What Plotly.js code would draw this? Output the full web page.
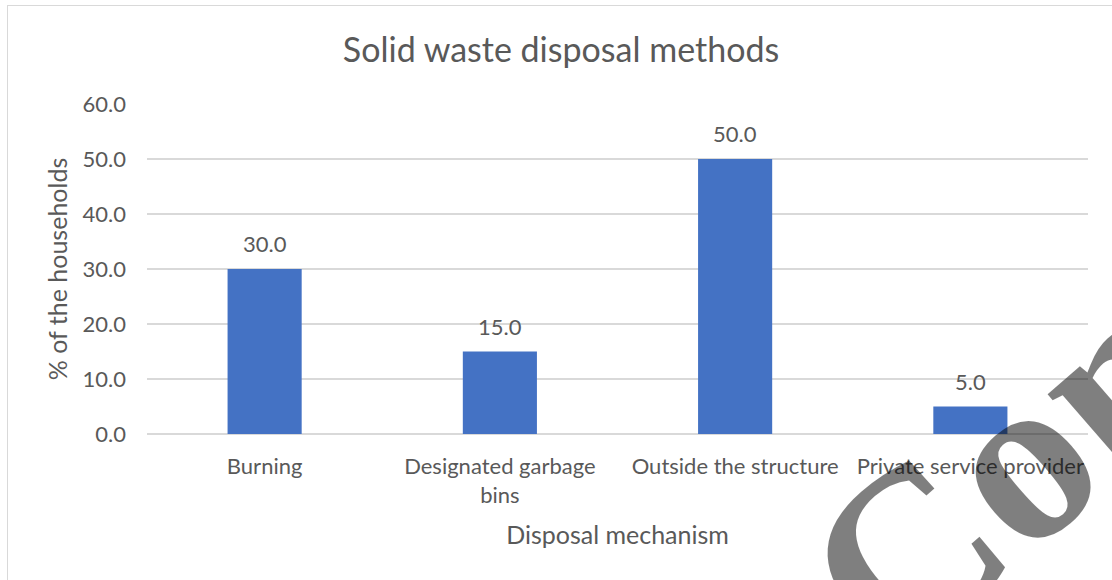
<!DOCTYPE html>
<html><head><meta charset="utf-8">
<script src="https://cdn.plot.ly/plotly-3.0.1.min.js"></script>
<style>
html,body{margin:0;padding:0;background:#fff;}
#wrap{position:relative;width:1112px;height:580px;overflow:hidden;}
#chart{width:1112px;height:580px;}
#frame{position:absolute;left:7px;top:5px;width:1130px;height:600px;border:1.5px solid #d9d9d9;pointer-events:none;box-sizing:border-box;}
</style>
</head><body>
<div id="wrap"><div id="chart"></div><div id="frame"></div></div>
<script>
const categories = ["Burning", "Designated garbage<br>bins", "Outside the structure", "Private service provider"];
const values = [30.0, 15.0, 50.0, 5.0];
const valueLabels = ["30.0", "15.0", "50.0", "5.0"];
const yTickValues = [0, 10, 20, 30, 40, 50, 60];
const yTickLabels = ["0.0", "10.0", "20.0", "30.0", "40.0", "50.0", "60.0"];
const chartTitle = "Solid waste disposal methods";
const xTitle = "Disposal mechanism";
const yTitle = "% of the households";
const watermark = "Con";

const FONT = "Lato, 'Open Sans', sans-serif";
const GREY = "#595959";

const annotations = categories.map((c, i) => ({
  x: c, y: values[i], xref: "x", yref: "y",
  text: valueLabels[i], showarrow: false,
  xanchor: "center", yanchor: "bottom", yshift: 10,
  font: {family: FONT, size: 22, color: GREY}
}));
annotations.push({
  xref: "paper", yref: "paper", x: 0.908, y: -0.118,
  xanchor: "center", yanchor: "middle",
  text: "<b>" + watermark + "</b>", showarrow: false, textangle: -41,
  font: {family: "'Liberation Serif', 'DejaVu Serif', serif", size: 240, color: "rgba(0,0,0,0.5)"}
});

const trace = {
  type: "bar", x: categories, y: values,
  marker: {color: "#4472C4"}, width: 0.315,
  hoverinfo: "x+y"
};

const layout = {
  width: 1112, height: 580,
  margin: {l: 147, r: 24, t: 104, b: 146},
  paper_bgcolor: "#ffffff", plot_bgcolor: "#ffffff",
  showlegend: false,
  font: {family: FONT, color: GREY},
  title: {text: chartTitle, x: 0.5045, xref: "container", xanchor: "center",
          y: 0.913, yref: "container", yanchor: "middle",
          font: {family: FONT, size: 34, color: GREY}},
  xaxis: {
    type: "category", showgrid: false, zeroline: false, showline: false,
    ticks: "", ticklabelstandoff: 17,
    tickfont: {family: FONT, size: 22, color: GREY},
    title: {text: xTitle, font: {family: FONT, size: 25, color: GREY}, standoff: 19}
  },
  yaxis: {
    range: [0, 60], tickvals: yTickValues, ticktext: yTickLabels,
    showgrid: true, gridcolor: "#d9d9d9", gridwidth: 1.5,
    zeroline: true, zerolinecolor: "#d9d9d9", zerolinewidth: 1.5,
    showline: false, ticks: "", ticklabelstandoff: 20,
    tickfont: {family: FONT, size: 22, color: GREY},
    title: {text: yTitle, font: {family: FONT, size: 25, color: GREY}, standoff: 7}
  },
  annotations: annotations
};

Plotly.newPlot("chart", [trace], layout, {displayModeBar: false, staticPlot: true});
</script>
</body></html>
